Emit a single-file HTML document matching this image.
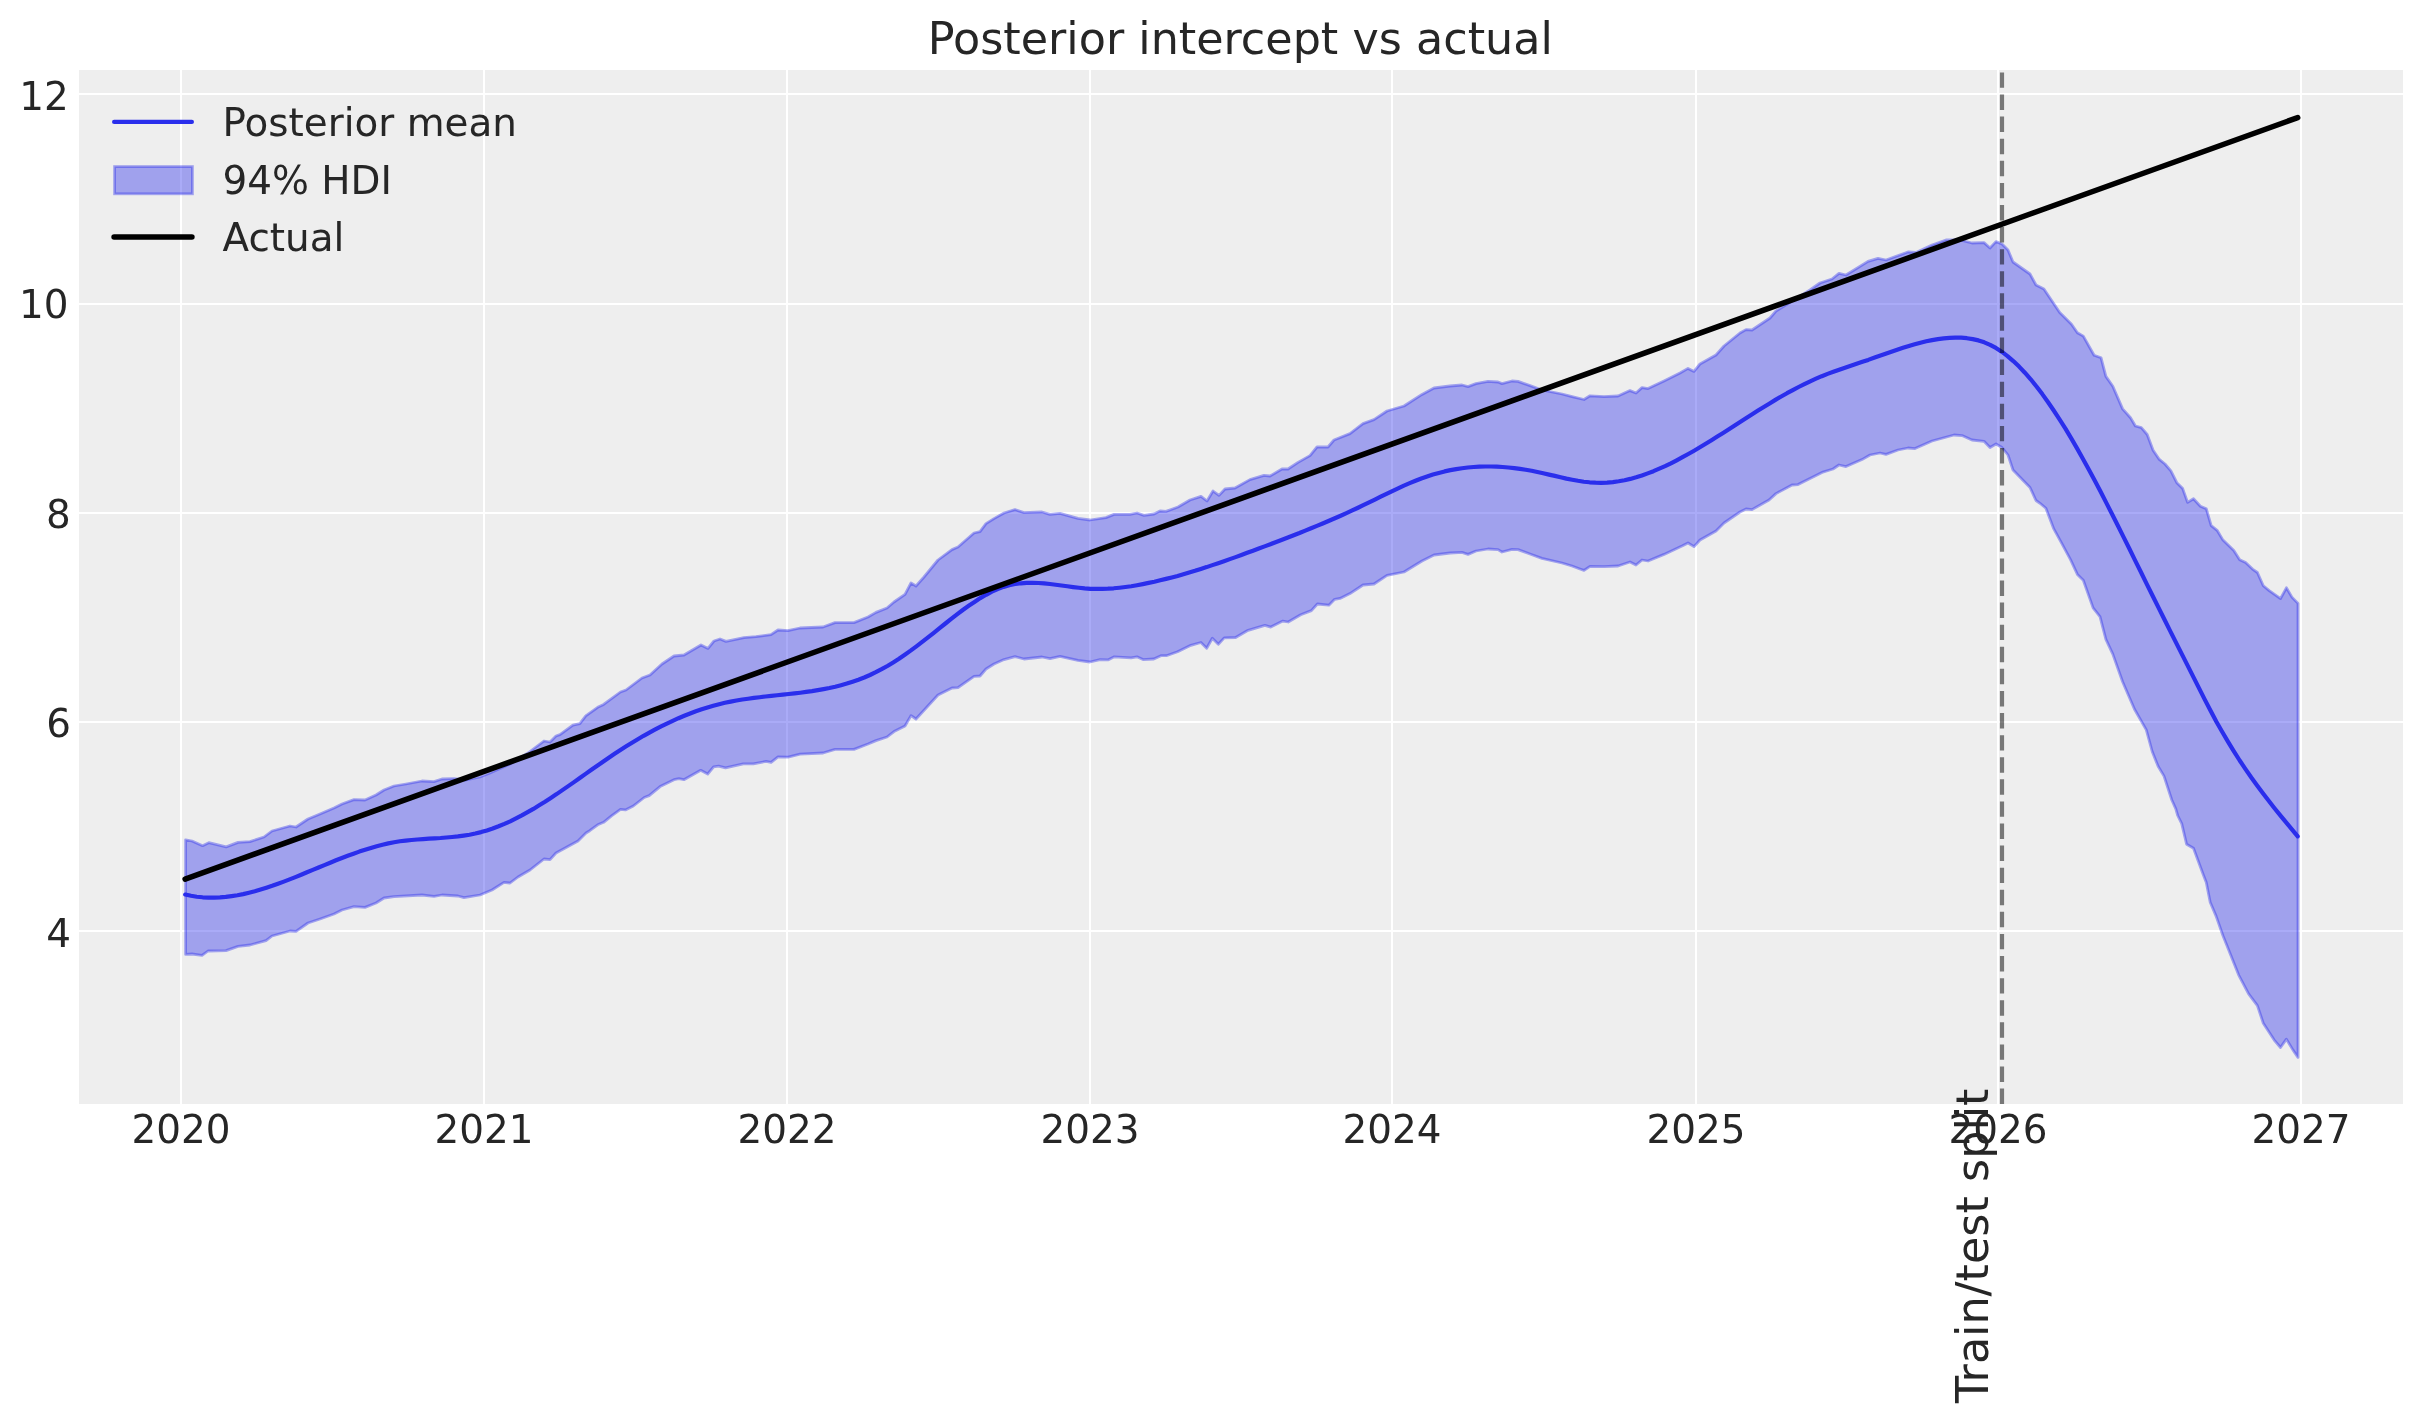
<!DOCTYPE html>
<html><head><meta charset="utf-8"><title>Posterior intercept vs actual</title>
<style>
html,body{margin:0;padding:0;background:#fff;}
body{width:2423px;height:1423px;overflow:hidden;}
svg{display:block;will-change:transform;}
text{font-family:'DejaVu Sans', 'Liberation Sans', sans-serif;fill:#262626;}
</style></head>
<body>
<svg width="2423" height="1423" viewBox="0 0 2423 1423">
<rect x="0" y="0" width="2423" height="1423" fill="#fff"/>
<rect x="79" y="70" width="2324" height="1034" fill="#eeeeee"/>
<g shape-rendering="crispEdges">
<rect x="180" y="70" width="2" height="1034" fill="#fff"/>
<rect x="483" y="70" width="2" height="1034" fill="#fff"/>
<rect x="786" y="70" width="2" height="1034" fill="#fff"/>
<rect x="1089" y="70" width="2" height="1034" fill="#fff"/>
<rect x="1391" y="70" width="2" height="1034" fill="#fff"/>
<rect x="1695" y="70" width="2" height="1034" fill="#fff"/>
<rect x="1997" y="70" width="2" height="1034" fill="#fff"/>
<rect x="2300" y="70" width="2" height="1034" fill="#fff"/>
<rect x="79" y="93" width="2324" height="2" fill="#fff"/>
<rect x="79" y="303" width="2324" height="2" fill="#fff"/>
<rect x="79" y="512" width="2324" height="2" fill="#fff"/>
<rect x="79" y="721" width="2324" height="2" fill="#fff"/>
<rect x="79" y="930" width="2324" height="2" fill="#fff"/>
</g>
<defs><clipPath id="ax"><rect x="79" y="70" width="2324" height="1034"/></clipPath></defs>
<g clip-path="url(#ax)">
<path d="M185.6 839.8 L192 841 L202.6 845.7 L208.8 842.7 L226.2 846.9 L238 842.4 L250 841.6 L264 837 L272 831 L290 826 L296 827 L308 819 L320 814 L334 808 L342 804 L354 799.6 L365 800 L376 795 L384 790 L394 786 L406 784 L422 781 L434 781.6 L442 779 L454 778.6 L466 780 L480 777 L490 773 L510 764 L528 753 L544 741 L550 742 L556 736 L560 734.6 L572.9 725.2 L579.8 723.7 L585.8 715.8 L597.7 707.3 L603.6 704.4 L620.5 692 L626 690 L642 678 L650 675 L662 664 L674 656 L684 655 L701 645 L708 648.4 L714 641 L720 639 L726 641.4 L744 637.6 L756 636.6 L771 634.6 L778 630 L788 630.6 L800 628 L823 627 L835 622.6 L854 622.6 L868 617 L876 612.4 L887 608 L894 602 L905 594.4 L911 583 L916 586 L924 577 L938 560 L952 549.6 L958 547 L974 533 L980 531.6 L986 523.6 L994 518.6 L1004 513 L1015 509.6 L1024 512.6 L1042 512 L1050 514.4 L1060 513.4 L1078 518.4 L1090 520 L1106 517.6 L1114 514.4 L1130 514.4 L1137 513 L1144 515.4 L1154 514 L1160 511 L1166 511.4 L1178 507 L1190 500 L1201 496.4 L1207 501 L1213 491 L1219 495.4 L1225 489 L1235 488 L1250 479.6 L1264 475.4 L1270 476 L1282 469 L1288 469 L1298 462.4 L1310 455.6 L1317 447 L1328 447 L1334 440 L1350 433.6 L1363 423.6 L1374 419.6 L1387 411 L1404 406 L1422 394.4 L1434 388 L1450 386 L1462 385 L1468 386.6 L1476 383.6 L1488 381.4 L1498 382 L1502 383.6 L1512 381 L1518 381.4 L1530 385.6 L1542 390 L1562 394 L1572 396.6 L1584 399.5 L1590 395.8 L1604 396.6 L1618 396 L1630 390.6 L1636 393 L1642 387.6 L1648 388.6 L1664 381 L1680 373 L1688 368.4 L1694 371.4 L1700 364 L1716 355 L1724 346 L1740 333 L1746 329.6 L1752 330 L1770 318 L1776 311 L1790 302.4 L1810 290 L1820 283 L1832 279 L1839 273.4 L1846 275 L1868 261.4 L1878 258.4 L1886 260 L1908 252 L1916 252.4 L1932 245 L1946 240 L1960 240 L1972 243 L1984 242.6 L1990 248 L1996 241.6 L2002 244 L2008 250 L2013 262 L2030 274 L2036 285 L2040 286.9 L2043.9 288.9 L2059.7 312.5 L2071.5 324.3 L2077.4 332.7 L2083.3 336.1 L2094.1 355.2 L2101 357.7 L2105.9 376.4 L2112.8 386.3 L2122.6 408.9 L2130.5 417.7 L2135.4 426 L2141.3 427.6 L2147.2 434.5 L2153.1 450.2 L2159 459.1 L2165 464 L2170.9 470.9 L2176.8 482.7 L2182.7 488.6 L2187.6 502.4 L2193.5 498.8 L2200.4 506.3 L2206.3 508.8 L2211.2 525.6 L2217.1 530.3 L2223 540.1 L2233.8 550.6 L2239.7 559.7 L2245.6 562.6 L2252.5 569.1 L2257.4 572.5 L2263.3 585.7 L2269.2 590.6 L2280.5 598.6 L2286.4 587.8 L2291.9 597.1 L2298 603.4 L2298 1057.4 L2292.9 1049.9 L2286.4 1039.1 L2280.5 1047.5 L2274.2 1040.1 L2263.3 1023.3 L2257.4 1005.6 L2248.6 993.8 L2238.7 975.1 L2223 935.8 L2216.1 916.1 L2210.2 902.3 L2206.3 882.6 L2203.3 874.8 L2193.5 848.2 L2186.6 844.3 L2181.7 823.6 L2177.7 815.5 L2175.8 808.9 L2171.8 800 L2164 776.1 L2158.1 766.3 L2152.2 751.5 L2146.3 729.9 L2134.5 709.2 L2122.6 681.7 L2112.8 654.1 L2105.9 639.4 L2100 616.7 L2093.1 607.9 L2083.3 580.3 L2077.4 574.4 L2070.5 559.7 L2059.7 539.7 L2053.8 528.9 L2045.9 508.3 L2040 503.3 L2036 500.5 L2030 487.5 L2013 470 L2008 455 L2002 447.5 L1996 444 L1990 447.5 L1984 441.3 L1972 440 L1962 435.6 L1954 435 L1932 441 L1915 448.6 L1908 448 L1898 450 L1886 454.4 L1880 453 L1870 455 L1862 459.6 L1846 466.6 L1839 465 L1833 469 L1822 472.4 L1810 478.4 L1798 484.6 L1792 485 L1776 493.6 L1769 500 L1752 509.6 L1746 509 L1740 512 L1724 523 L1716 531 L1700 540 L1694 546.6 L1688 543 L1682 546 L1664 554.4 L1648 561 L1642 560 L1636 565 L1630 562 L1618 566 L1604 566.6 L1590 566.4 L1584 570.4 L1580 569 L1572 566 L1562 563 L1542 558.4 L1530 554 L1518 549.6 L1512 549.4 L1502 552 L1498 549.6 L1488 549 L1476 551 L1468 554.4 L1462 552.4 L1450 553 L1434 555 L1422 561 L1404 572 L1387 575.4 L1374 584 L1363 585 L1350 593.6 L1340 598.4 L1334.7 599.3 L1328.8 605.2 L1317.4 604 L1311.4 610.6 L1300.7 614.8 L1288.2 622 L1282.8 621.1 L1270.8 627.1 L1264.9 625.3 L1248.1 630.3 L1235.6 637.5 L1224.2 637.9 L1218.3 644.3 L1212.3 638.3 L1206.7 648.2 L1200.9 642.5 L1190.8 645.3 L1177.6 651.8 L1166.3 655.7 L1160.9 655.7 L1153.8 659 L1143 659.6 L1137 656.8 L1131.1 657.8 L1114.3 656.8 L1108.4 659.8 L1100 659.6 L1090 662 L1078 660.4 L1060 656.4 L1050 658.6 L1042 657 L1024 659 L1015 656.6 L1004 659.6 L994 664 L986 669 L980 676 L974 676.4 L958 687.6 L952 688 L938 695 L916 719 L911 715.6 L905 726 L894 731.6 L887 737 L876 740.6 L868 744 L854 749.4 L835 749.4 L823 753 L800 754.2 L788 757.2 L778 756.9 L771.1 762.3 L766.1 761.4 L753.3 763.8 L743.3 763.8 L725.5 767.8 L718.6 766.1 L713.6 766.8 L707.7 774 L700.7 770.3 L683.9 779.7 L678.9 778.7 L674 779.7 L660.1 786.6 L649.2 795.6 L644.2 797.5 L633.3 806 L625.4 809.9 L620.5 809.4 L611.5 815.9 L603.6 822.3 L597.7 824.8 L589.7 830.7 L586 833 L578 841 L556 853 L550 859.6 L544 859 L530 870 L518 877 L510 883 L504 882.4 L492 890 L480 895 L464 897.6 L458 896 L442 895 L434 896.4 L422 895 L394 896.6 L384 898 L376 903 L365 907.4 L354 906.6 L342 910 L334 914 L320 919 L308 923 L296 931.4 L290 931 L272 936 L266 940.6 L250 945 L238 946.4 L226 950.6 L208 951 L202 955.4 L192 954 L185.6 954.4 Z" fill="#2a2eec" fill-opacity="0.4" stroke="#2a2eec" stroke-opacity="0.4" stroke-width="2.78" stroke-linejoin="round"/>
<path d="M185.2 894.5 L191 895.8 L196.8 896.7 L202.6 897.3 L208.4 897.6 L214.2 897.6 L220 897.4 L225.8 896.9 L231.6 896.1 L237.4 895.2 L243.2 894.1 L249 892.7 L254.8 891.2 L260.6 889.5 L266.4 887.7 L272.2 885.8 L278 883.7 L283.8 881.6 L289.6 879.4 L295.4 877.1 L301.2 874.7 L307 872.3 L312.8 869.9 L318.6 867.5 L324.4 865.1 L330.2 862.7 L336 860.3 L341.9 858 L347.7 855.8 L353.5 853.7 L359.3 851.6 L365.1 849.7 L370.9 847.9 L376.7 846.2 L382.5 844.7 L388.3 843.4 L394.1 842.3 L399.9 841.3 L405.7 840.6 L411.5 840 L417.3 839.5 L423.1 839.1 L428.9 838.7 L434.7 838.3 L440.5 838 L446.3 837.5 L452.1 837 L457.9 836.4 L463.7 835.6 L469.5 834.7 L475.3 833.5 L481.1 832.1 L486.9 830.4 L492.7 828.5 L498.6 826.3 L504.4 823.9 L510.2 821.3 L516 818.4 L521.8 815.4 L527.6 812.2 L533.4 808.9 L539.2 805.3 L545 801.7 L550.8 797.9 L556.6 794.1 L562.4 790.1 L568.2 786.1 L574 782.1 L579.8 778 L585.6 773.9 L591.4 769.8 L597.2 765.8 L603 761.7 L608.8 757.7 L614.6 753.8 L620.4 750 L626.2 746.3 L632 742.7 L637.8 739.2 L643.6 735.8 L649.4 732.6 L655.3 729.4 L661.1 726.4 L666.9 723.6 L672.7 720.8 L678.5 718.2 L684.3 715.8 L690.1 713.5 L695.9 711.3 L701.7 709.3 L707.5 707.5 L713.3 705.8 L719.1 704.2 L724.9 702.8 L730.7 701.6 L736.5 700.5 L742.3 699.5 L748.1 698.7 L753.9 697.9 L759.7 697.2 L765.5 696.5 L771.3 695.9 L777.1 695.2 L782.9 694.6 L788.7 694 L794.5 693.4 L800.3 692.7 L806.1 691.9 L812 691.1 L817.8 690.1 L823.6 689.1 L829.4 688 L835.2 686.7 L841 685.2 L846.8 683.6 L852.6 681.7 L858.4 679.7 L864.2 677.5 L870 675 L875.8 672.2 L881.6 669.2 L887.4 666 L893.2 662.4 L899 658.7 L904.8 654.7 L910.6 650.6 L916.4 646.3 L922.2 641.9 L928 637.4 L933.8 632.8 L939.6 628.1 L945.4 623.5 L951.2 618.9 L957 614.4 L962.8 610 L968.7 605.8 L974.5 601.9 L980.3 598.1 L986.1 594.8 L991.9 591.7 L997.7 589.1 L1003.5 586.9 L1009.3 585.2 L1015.1 584 L1020.9 583.3 L1026.7 582.9 L1032.5 582.8 L1038.3 583 L1044.1 583.4 L1049.9 584 L1055.7 584.7 L1061.5 585.5 L1067.3 586.3 L1073.1 587.1 L1078.9 587.8 L1084.7 588.4 L1090.5 588.8 L1096.3 588.9 L1102.1 588.9 L1107.9 588.7 L1113.7 588.3 L1119.5 587.7 L1125.4 587 L1131.2 586.2 L1137 585.2 L1142.8 584.1 L1148.6 582.9 L1154.4 581.7 L1160.2 580.3 L1166 578.9 L1171.8 577.4 L1177.6 575.9 L1183.4 574.2 L1189.2 572.5 L1195 570.8 L1200.8 568.9 L1206.6 567.1 L1212.4 565.1 L1218.2 563.2 L1224 561.2 L1229.8 559.1 L1235.6 557.1 L1241.4 555 L1247.2 552.8 L1253 550.7 L1258.8 548.5 L1264.6 546.4 L1270.4 544.2 L1276.2 542 L1282.1 539.7 L1287.9 537.5 L1293.7 535.2 L1299.5 533 L1305.3 530.6 L1311.1 528.3 L1316.9 525.9 L1322.7 523.5 L1328.5 521 L1334.3 518.5 L1340.1 516 L1345.9 513.4 L1351.7 510.7 L1357.5 508 L1363.3 505.2 L1369.1 502.4 L1374.9 499.6 L1380.7 496.7 L1386.5 493.9 L1392.3 491.1 L1398.1 488.4 L1403.9 485.7 L1409.7 483.2 L1415.5 480.8 L1421.3 478.5 L1427.1 476.5 L1432.9 474.6 L1438.8 472.9 L1444.6 471.4 L1450.4 470.1 L1456.2 469.1 L1462 468.2 L1467.8 467.5 L1473.6 467 L1479.4 466.6 L1485.2 466.5 L1491 466.5 L1496.8 466.6 L1502.6 467 L1508.4 467.5 L1514.2 468.1 L1520 468.9 L1525.8 469.8 L1531.6 470.8 L1537.4 472 L1543.2 473.3 L1549 474.6 L1554.8 475.9 L1560.6 477.3 L1566.4 478.6 L1572.2 479.7 L1578 480.8 L1583.8 481.7 L1589.6 482.3 L1595.5 482.7 L1601.3 482.8 L1607.1 482.6 L1612.9 482.1 L1618.7 481.3 L1624.5 480.2 L1630.3 478.9 L1636.1 477.3 L1641.9 475.5 L1647.7 473.4 L1653.5 471.2 L1659.3 468.7 L1665.1 466.1 L1670.9 463.3 L1676.7 460.3 L1682.5 457.2 L1688.3 454 L1694.1 450.7 L1699.9 447.3 L1705.7 443.8 L1711.5 440.2 L1717.3 436.5 L1723.1 432.9 L1728.9 429.2 L1734.7 425.4 L1740.5 421.7 L1746.3 418 L1752.2 414.3 L1758 410.6 L1763.8 407 L1769.6 403.4 L1775.4 399.9 L1781.2 396.5 L1787 393.2 L1792.8 390.1 L1798.6 387 L1804.4 384.1 L1810.2 381.3 L1816 378.7 L1821.8 376.2 L1827.6 373.9 L1833.4 371.8 L1839.2 369.7 L1845 367.7 L1850.8 365.7 L1856.6 363.8 L1862.4 361.8 L1868.2 359.9 L1874 357.8 L1879.8 355.8 L1885.6 353.7 L1891.4 351.7 L1897.2 349.7 L1903 347.8 L1908.9 346 L1914.7 344.3 L1920.5 342.7 L1926.3 341.3 L1932.1 340.1 L1937.9 339.1 L1943.7 338.4 L1949.5 337.9 L1955.3 337.7 L1961.1 337.7 L1966.9 338.2 L1972.7 339.1 L1978.5 340.4 L1984.3 342.3 L1990.1 344.8 L1995.9 347.9 L2001.7 351.7 L2007.5 356.1 L2013.3 361.1 L2019.1 366.6 L2024.9 372.7 L2030.7 379.3 L2036.5 386.5 L2042.3 394.1 L2048.1 402.2 L2053.9 410.7 L2059.7 419.6 L2065.6 428.9 L2071.4 438.6 L2077.2 448.6 L2083 458.9 L2088.8 469.5 L2094.6 480.3 L2100.4 491.3 L2106.2 502.6 L2112 514 L2117.8 525.5 L2123.6 537.1 L2129.4 548.8 L2135.2 560.6 L2141 572.3 L2146.8 584.1 L2152.6 595.8 L2158.4 607.4 L2164.2 619 L2170 630.6 L2175.8 642.1 L2181.6 653.6 L2187.4 665.1 L2193.2 676.6 L2199 688.1 L2204.8 699.6 L2210.6 710.8 L2216.4 721.7 L2222.3 732 L2228.1 741.9 L2233.9 751.4 L2239.7 760.5 L2245.5 769.1 L2251.3 777.5 L2257.1 785.5 L2262.9 793.3 L2268.7 800.8 L2274.5 808.2 L2280.3 815.4 L2286.1 822.4 L2291.9 829.4 L2297.7 836.4" fill="none" stroke="#2a2eec" stroke-width="4.17" stroke-linecap="round" stroke-linejoin="round"/>
<path d="M185.15 879.1 L2297.7 117.6" fill="none" stroke="#000" stroke-width="5.56" stroke-linecap="round"/>
<path d="M2002 1104 L2002 70" fill="none" stroke="#000" stroke-opacity="0.5" stroke-width="4.17" stroke-dasharray="15.42 6.67"/>
</g>
<g font-size="38.89">
<text x="68.7" y="109.9" text-anchor="end">12</text>
<text x="68.5" y="317.8" text-anchor="end">10</text>
<text x="70.8" y="528.0" text-anchor="end">8</text>
<text x="71.0" y="736.9" text-anchor="end">6</text>
<text x="71.0" y="946.8" text-anchor="end">4</text>
<text x="181" y="1143" text-anchor="middle">2020</text>
<text x="484" y="1143" text-anchor="middle">2021</text>
<text x="787" y="1143" text-anchor="middle">2022</text>
<text x="1090" y="1143" text-anchor="middle">2023</text>
<text x="1392" y="1143" text-anchor="middle">2024</text>
<text x="1696" y="1143" text-anchor="middle">2025</text>
<text x="1998" y="1143" text-anchor="middle">2026</text>
<text x="2301" y="1143" text-anchor="middle">2027</text>
</g>
<text x="1240.3" y="53.65" font-size="44.44" text-anchor="middle">Posterior intercept vs actual</text>
<text transform="translate(1988,1403) rotate(-90)" font-size="44.44">Train/test split</text>
<g>
<path d="M114.1 121.9 L191.9 121.9" stroke="#2a2eec" stroke-width="4.17" stroke-linecap="round"/>
<rect x="114.6" y="166.6" width="77.8" height="27.2" fill="#2a2eec" fill-opacity="0.4" stroke="#2a2eec" stroke-opacity="0.4" stroke-width="2.78"/>
<path d="M114.1 237 L191.9 237" stroke="#000" stroke-width="5.56" stroke-linecap="round"/>
<g font-size="38.89">
<text x="222.5" y="136.2">Posterior mean</text>
<text x="222.5" y="193.5">94% HDI</text>
<text x="222.5" y="251.1">Actual</text>
</g>
</g>
</svg>
</body></html>
